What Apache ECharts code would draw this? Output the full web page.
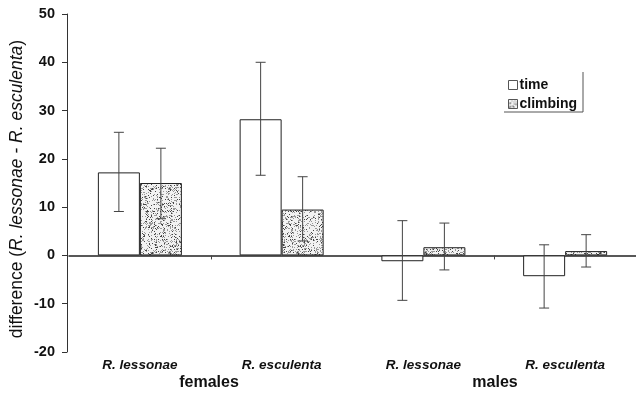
<!DOCTYPE html>
<html>
<head>
<meta charset="utf-8">
<script src="https://cdn.jsdelivr.net/npm/echarts@6/dist/echarts.min.js"></script>
<style>
  html, body { margin: 0; padding: 0; background: #fff; }
  #chart { width: 636px; height: 393px; }
</style>
</head>
<body>
<div id="chart"></div>
<script>
// data
const categories = ["R. lessonae", "R. esculenta", "R. lessonae", "R. esculenta"];
const groups = ["females", "males"];
const timeVals = [17.2, 28.2, -1.2, -4.3];
const timeLow = [9.1, 16.6, -9.3, -10.9];
const timeHigh = [25.5, 40.0, 7.2, 2.2];
const climbVals = [15.0, 9.5, 1.7, 0.9];
const climbLow = [7.6, 3.0, -3.0, -2.4];
const climbHigh = [22.2, 16.3, 6.7, 4.3];

const FONT = "Liberation Sans";
const BAR_W = 42;

// stipple texture for the "climbing" bars
function makeStipple() {
  const c = document.createElement("canvas");
  c.width = 64; c.height = 64;
  const ctx = c.getContext("2d");
  ctx.fillStyle = "#f2f2f2";
  ctx.fillRect(0, 0, 64, 64);
  let s = 12345;
  const next = () => { s = (s * 1103515245 + 12345) & 0x7fffffff; return s / 0x7fffffff; };
  for (let y = 0; y < 64; y++) {
    for (let x = 0; x < 64; x++) {
      const r = next();
      if (r < 0.26) {
        ctx.fillStyle = r < 0.08 ? "#444" : "#999";
        ctx.fillRect(x, y, 1, 1);
      }
    }
  }
  return c;
}
const stipple = { image: makeStipple(), repeat: "repeat" };

const myChart = echarts.init(document.getElementById("chart"));

function errorSeries(name, low, high, offset) {
  return {
    name: name + "_err",
    type: "custom",
    xAxisIndex: 0,
    z: 10,
    silent: true,
    data: low.map((l, i) => [i, l, high[i]]),
    renderItem: (params, api) => {
      const lo = api.coord([api.value(0), api.value(1)]);
      const hi = api.coord([api.value(0), api.value(2)]);
      const x = lo[0] + offset;
      const cap = 5;
      const style = { stroke: "#444", lineWidth: 1 };
      return {
        type: "group",
        children: [
          { type: "line", shape: { x1: x, y1: hi[1], x2: x, y2: lo[1] }, style },
          { type: "line", shape: { x1: x - cap, y1: hi[1], x2: x + cap, y2: hi[1] }, style },
          { type: "line", shape: { x1: x - cap, y1: lo[1], x2: x + cap, y2: lo[1] }, style },
        ],
      };
    },
  };
}

const option = {
  backgroundColor: "#fff",
  animation: false,
  grid: { left: 69, right: 0, top: 14, bottom: 41, outerBoundsMode: "none", containLabel: false },
  legend: {
    orient: "vertical",
    left: 503,
    top: 73,
    itemWidth: 9,
    itemHeight: 9,
    itemGap: 5,
    icon: "rect",
    data: ["time", "climbing"],
    itemStyle: { borderColor: "#555", borderWidth: 1 },
    textStyle: { fontFamily: FONT, fontSize: 14, fontWeight: "bold", color: "#111", padding: [0, 0, 0, -3] },
  },
  xAxis: [
    {
      type: "category",
      data: categories,
      position: "bottom",
      axisLine: { show: false, onZero: false },
      axisTick: { show: false },
      axisLabel: {
        margin: 6,
        fontFamily: FONT,
        fontSize: 13.5,
        fontWeight: "bold",
        fontStyle: "italic",
        color: "#111",
      },
    },
    {
      type: "category",
      data: categories,
      position: "bottom",
      axisLine: { show: true, onZero: true, lineStyle: { color: "#222", width: 1.5 } },
      axisTick: {
        show: true,
        length: 4,
        interval: (i) => i === 1 || i === 3,
        lineStyle: { color: "#444" },
      },
      axisLabel: { show: false },
    },
  ],
  yAxis: {
    type: "value",
    min: -20,
    max: 50,
    interval: 10,
    offset: 2,
    name: "{a|difference (}{b|R. lessonae - R. esculenta}{a|)}",
    nameLocation: "middle",
    nameGap: 41,
    nameMoveOverlap: false,
    nameRotate: 90,
    nameTextStyle: {
      padding: [0, 12, 0, 0],
      rich: {
        a: { fontFamily: FONT, fontSize: 17.5, color: "#111" },
        b: { fontFamily: FONT, fontSize: 17.5, fontStyle: "italic", color: "#111" },
      },
    },
    axisLine: { show: true, lineStyle: { color: "#333" } },
    axisTick: { show: true, length: 5, lineStyle: { color: "#333" } },
    splitLine: { show: false },
    axisLabel: {
      margin: 12,
      fontFamily: FONT,
      fontSize: 14.5,
      fontWeight: "bold",
      color: "#111",
    },
  },
  graphic: [
    { type: "line", shape: { x1: 583, y1: 72, x2: 583, y2: 112 }, style: { stroke: "#555", lineWidth: 1 } },
    { type: "line", shape: { x1: 504, y1: 112, x2: 583, y2: 112 }, style: { stroke: "#555", lineWidth: 1 } },
    {
      type: "text", x: 209, y: 383,
      style: { text: groups[0], fontFamily: FONT, fontSize: 16, fontWeight: "bold", fill: "#111", align: "center", verticalAlign: "middle" },
    },
    {
      type: "text", x: 495, y: 383,
      style: { text: groups[1], fontFamily: FONT, fontSize: 16, fontWeight: "bold", fill: "#111", align: "center", verticalAlign: "middle" },
    },
  ],
  series: [
    {
      name: "time",
      type: "bar",
      data: timeVals,
      barWidth: BAR_W,
      barGap: "0%",
      itemStyle: { color: "#fff", borderColor: "#222", borderWidth: 1 },
    },
    {
      name: "climbing",
      type: "bar",
      data: climbVals,
      barWidth: BAR_W,
      barGap: "0%",
      itemStyle: { color: stipple, borderColor: "#222", borderWidth: 1 },
    },
    errorSeries("time", timeLow, timeHigh, -BAR_W / 2),
    errorSeries("climbing", climbLow, climbHigh, BAR_W / 2),
  ],
};

myChart.setOption(option);
</script>
</body>
</html>
